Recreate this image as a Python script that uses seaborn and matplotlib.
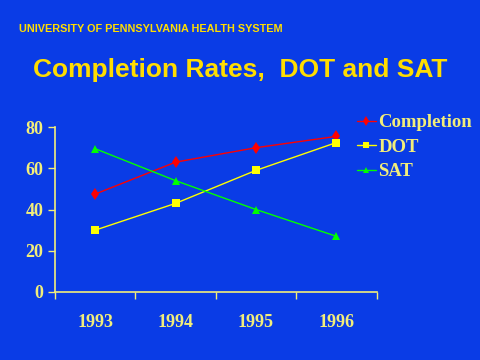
import matplotlib
matplotlib.use("Agg")
import matplotlib.pyplot as plt
import pandas as pd
import seaborn as sns

years = [1993, 1994, 1995, 1996]
completion = [47.5, 63, 70, 75.5]
dot = [30, 43, 59, 72.5]
sat = [69.5, 54, 40, 27]
series_names = ["Completion", "DOT", "SAT"]

bg = "#0a3ce6"
pale = "#f2ee7a"

df = pd.DataFrame({
    "Year": years * 3,
    "Value": completion + dot + sat,
    "Series": [n for n in series_names for _ in years],
})

sns.set_style("ticks")
fig = plt.figure(figsize=(4.8, 3.6), dpi=100, facecolor=bg)
ax = fig.add_axes([0.1146, 0.189, 0.67, 0.458])
ax.set_facecolor(bg)

palette = {"Completion": "#ff0000", "DOT": "#ffff00", "SAT": "#00ff00"}
markers = {"Completion": "d", "DOT": "s", "SAT": "^"}
sns.lineplot(data=df, x="Year", y="Value", hue="Series", style="Series",
             palette=palette, markers=markers, dashes=False, linewidth=1,
             markersize=6, markeredgewidth=0, ax=ax)

ax.set_xlim(1992.5, 1996.5)
ax.set_ylim(0, 80)
ax.set_yticks([0, 20, 40, 60, 80])
ax.set_xticks([1992.5, 1993.5, 1994.5, 1995.5, 1996.5])
ax.set_xticklabels([])
ax.set_xticks(years, minor=True)
ax.set_xticklabels([str(y) for y in years], minor=True)
ax.tick_params(axis="x", which="minor", length=0, pad=16)
ax.tick_params(axis="both", which="major", colors=pale, length=5, width=1)
ax.tick_params(axis="both", which="both", labelcolor=pale)
for lab in ax.get_xticklabels(minor=True) + ax.get_yticklabels():
    lab.set_fontfamily("Liberation Serif")
    lab.set_fontweight("bold")
    lab.set_fontsize(13)
ax.set_xlabel("")
ax.set_ylabel("")
for s in ["top", "right"]:
    ax.spines[s].set_visible(False)
for s in ["left", "bottom"]:
    ax.spines[s].set_color(pale)
    ax.spines[s].set_linewidth(1.2)

leg = ax.legend(loc="upper left", bbox_to_anchor=(0.915, 1.125), frameon=False,
                handlelength=1.0, handletextpad=0.15, labelspacing=0.4,
                borderaxespad=0, markerscale=0.8,
                prop={"family": "Liberation Serif", "weight": "bold", "size": 13.5})
for t in leg.get_texts():
    t.set_color(pale)

fig.text(0.04, 0.92, "UNIVERSITY OF PENNSYLVANIA HEALTH SYSTEM", color="#ffdd00",
         fontsize=7.8, fontweight="bold", family="Liberation Sans", va="center")
fig.text(0.5, 0.805, "Completion Rates,  DOT and SAT", color="#ffdd00",
         fontsize=19, fontweight="bold", family="Liberation Sans", ha="center", va="center")

fig.savefig("out.png", dpi=100, facecolor=bg)
